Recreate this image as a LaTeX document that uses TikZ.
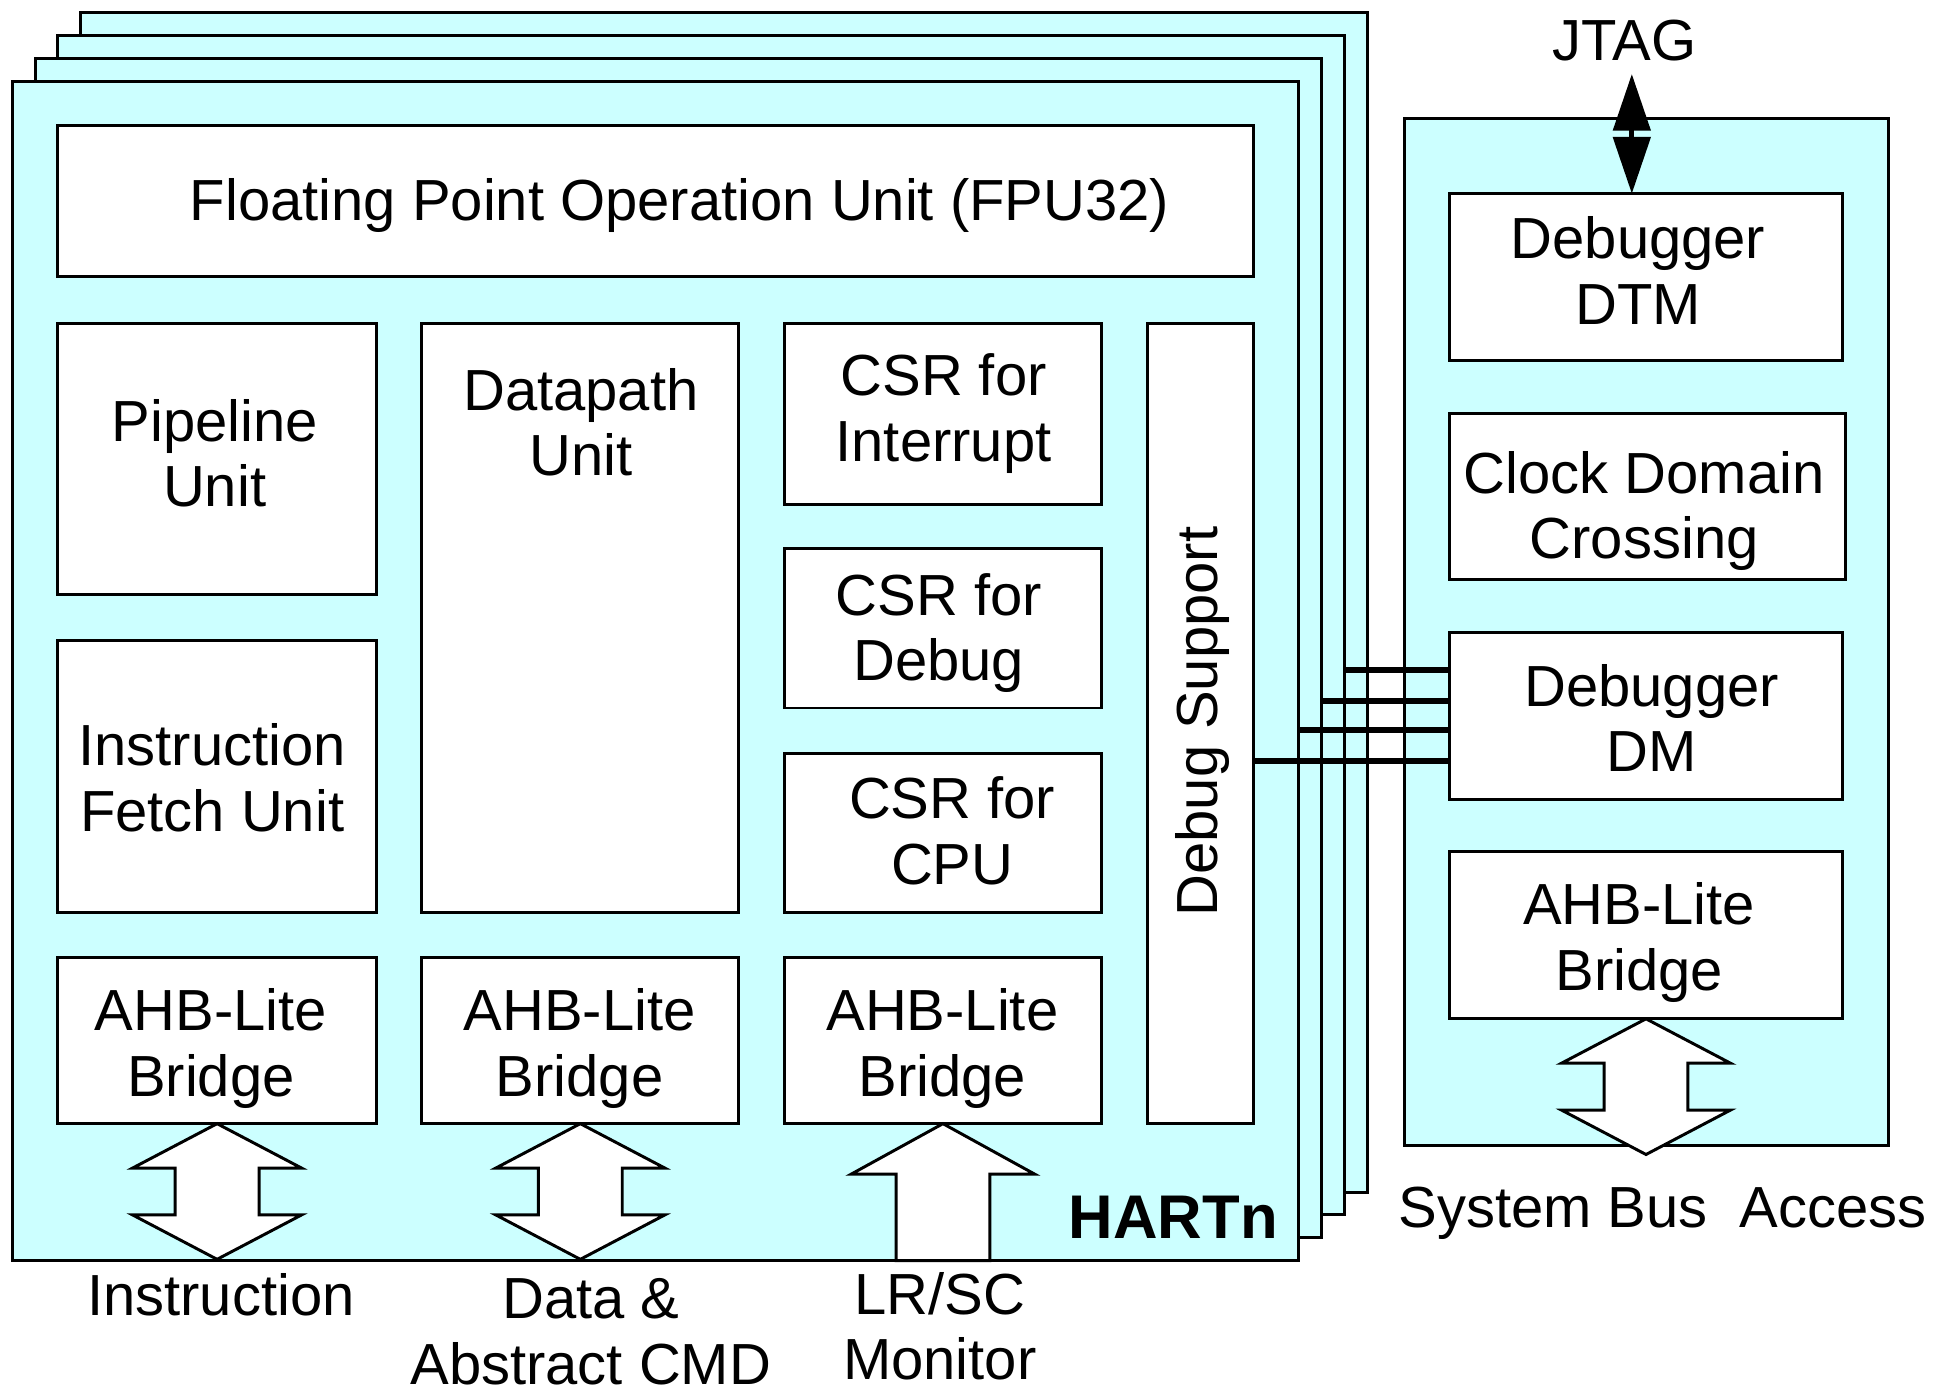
\documentclass[tikz,border=0pt]{standalone}
\usepackage{fontspec}
\setmainfont{Liberation Sans}
\newfontfamily\hartfont{Liberation Sans}
\usetikzlibrary{arrows.meta}
\definecolor{hcyan}{HTML}{CCFFFF}
\newcommand{\mybox}[6]{\node[#6, minimum width={#4-#2}, minimum height={#5-#3}] (#1) at ({(#2+#4)/2},{(#3+#5)/2}) {};}
\newcommand{\dblarrow}[1]{\draw[blockarrow] (#1.south) -- ++(68.5,36) -- ++(-34.5,0) -- ++(0,38) -- ++(34.5,0) -- ++(-68.5,36) -- ++(-68.5,-36) -- ++(34.5,0) -- ++(0,-38) -- ++(-34.5,0) -- cycle;}
\begin{document}
\begin{tikzpicture}[x=1pt,y=-1pt,
  every node/.style={inner sep=0pt, outer sep=0pt},
  frame/.style={draw, line width=2.4pt, fill=hcyan},
  unit/.style={draw, line width=2.4pt, fill=white},
  txt/.style={font=\fontsize{47}{53}\selectfont, align=center},
  blockarrow/.style={draw, line width=2.4pt, fill=white, line join=miter},
  dbgline/.style={line width=5pt},
  jtagarrow/.style={line width=4pt, {Triangle[length=46pt,width=30pt]}-{Triangle[length=46pt,width=30pt]}}
]
\useasboundingbox (0,0) rectangle (1568,1129);

% stacked HART frames
\mybox{f4}{65.5}{10.5}{1108.5}{966.5}{frame}
\mybox{f3}{47}{29}{1090}{985}{frame}
\mybox{f2}{29}{47.5}{1071.5}{1003.5}{frame}
\mybox{f1}{10.5}{66}{1053}{1022}{frame}

% units inside front HART
\mybox{fpu}{47}{102}{1016}{224}{unit}
\mybox{pipe}{47}{262}{305}{482}{unit}
\mybox{ifu}{47}{519}{305}{740}{unit}
\mybox{dp}{342}{262}{599}{740}{unit}
\mybox{csri}{636}{262}{893}{409}{unit}
\mybox{csrd}{636}{445}{893}{574}{unit}
\mybox{csrc}{636}{611}{893}{740}{unit}
\mybox{dbg}{930}{262}{1016}{911}{unit}
\mybox{ahbA}{47}{776}{305}{911}{unit}
\mybox{ahbB}{342}{776}{599}{911}{unit}
\mybox{ahbC}{636}{776}{893}{911}{unit}

% debug module
\mybox{dmod}{1139}{96}{1531}{929}{frame}
\mybox{dtm}{1175}{157}{1494}{292}{unit}
\mybox{cdc}{1175}{335}{1496}{470}{unit}
\mybox{dm}{1175}{513}{1494}{648}{unit}
\mybox{ahbR}{1175}{690}{1494}{826}{unit}

% block arrows
\dblarrow{ahbA}
\dblarrow{ahbB}
\dblarrow{ahbR}
\draw[blockarrow] (ahbC.south) -- ++(74.5,41) -- ++(-36.5,0) -- ++(0,70) -- ++(-76,0) -- ++(0,-70) -- ++(-36.5,0) -- cycle;

% debug lines
\draw[dbgline] (dbg.east |- 0,617) -- (dm.west |- 0,617);
\draw[dbgline] (f1.east |- 0,592) -- (dm.west |- 0,592);
\draw[dbgline] (f2.east |- 0,568) -- (dm.west |- 0,568);
\draw[dbgline] (f3.east |- 0,543) -- (dm.west |- 0,543);

% JTAG
\coordinate (jtagend) at (1323,60);
\draw[jtagarrow] (jtagend) -- (dtm.north -| jtagend);
\node[txt, anchor=base] (jtag) at (1317,48.8) {JTAG};

% texts
\node[txt, anchor=base] (tfpu) at (551,178.8) {Floating Point Operation Unit (FPU32)};
\node[txt, anchor=north] (tpipe) at (174,320.7) {Pipeline\strut\\Unit};
\node[txt, anchor=north] (tifu) at (172,583.7) {Instruction\strut\\Fetch Unit};
\node[txt, anchor=north] (tdp) at (471,295.7) {Datapath\strut\\Unit};
\node[txt, anchor=north] (tcsri) at (765,283.7) {CSR for\strut\\Interrupt};
\node[txt, anchor=north] (tcsrd) at (761,461.7) {CSR for\strut\\Debug};
\node[txt, anchor=north] (tcsrc) at (772,626.7) {CSR for\strut\\CPU};
\node[txt, anchor=north] (tahbA) at (171,798.7) {AHB-Lite\strut\\Bridge};
\node[txt, anchor=north] (tahbB) at (470,798.7) {AHB-Lite\strut\\Bridge};
\node[txt, anchor=north] (tahbC) at (764,798.7) {AHB-Lite\strut\\Bridge};
\node[txt, anchor=base, rotate=90] (tdbg) at (987.3,585) {Debug Support};
\node[font=\hartfont\bfseries\fontsize{50}{56}\selectfont, anchor=base east] (hart) at (1036,1004) {HARTn};

\node[txt, anchor=north] (tdtm) at (1328,172.7) {Debugger\strut\\DTM};
\node[txt, anchor=north] (tcdc) at (1333,362.7) {Clock Domain\strut\\Crossing};
\node[txt, anchor=north] (tdm) at (1339,535.7) {Debugger\strut\\DM};
\node[txt, anchor=north] (tahbR) at (1329,712.7) {AHB-Lite\strut\\Bridge};

\node[txt, anchor=base] (tinst) at (179,1066.8) {Instruction};
\node[txt, anchor=north] (tdata) at (479,1032) {Data \&\strut\\Abstract CMD};
\node[txt, anchor=north] (tlrsc) at (762,1028.7) {LR/SC\strut\\Monitor};
\node[txt, anchor=base] (tsys) at (1348,994.8) {System Bus\ \ Access};
\end{tikzpicture}
\end{document}
